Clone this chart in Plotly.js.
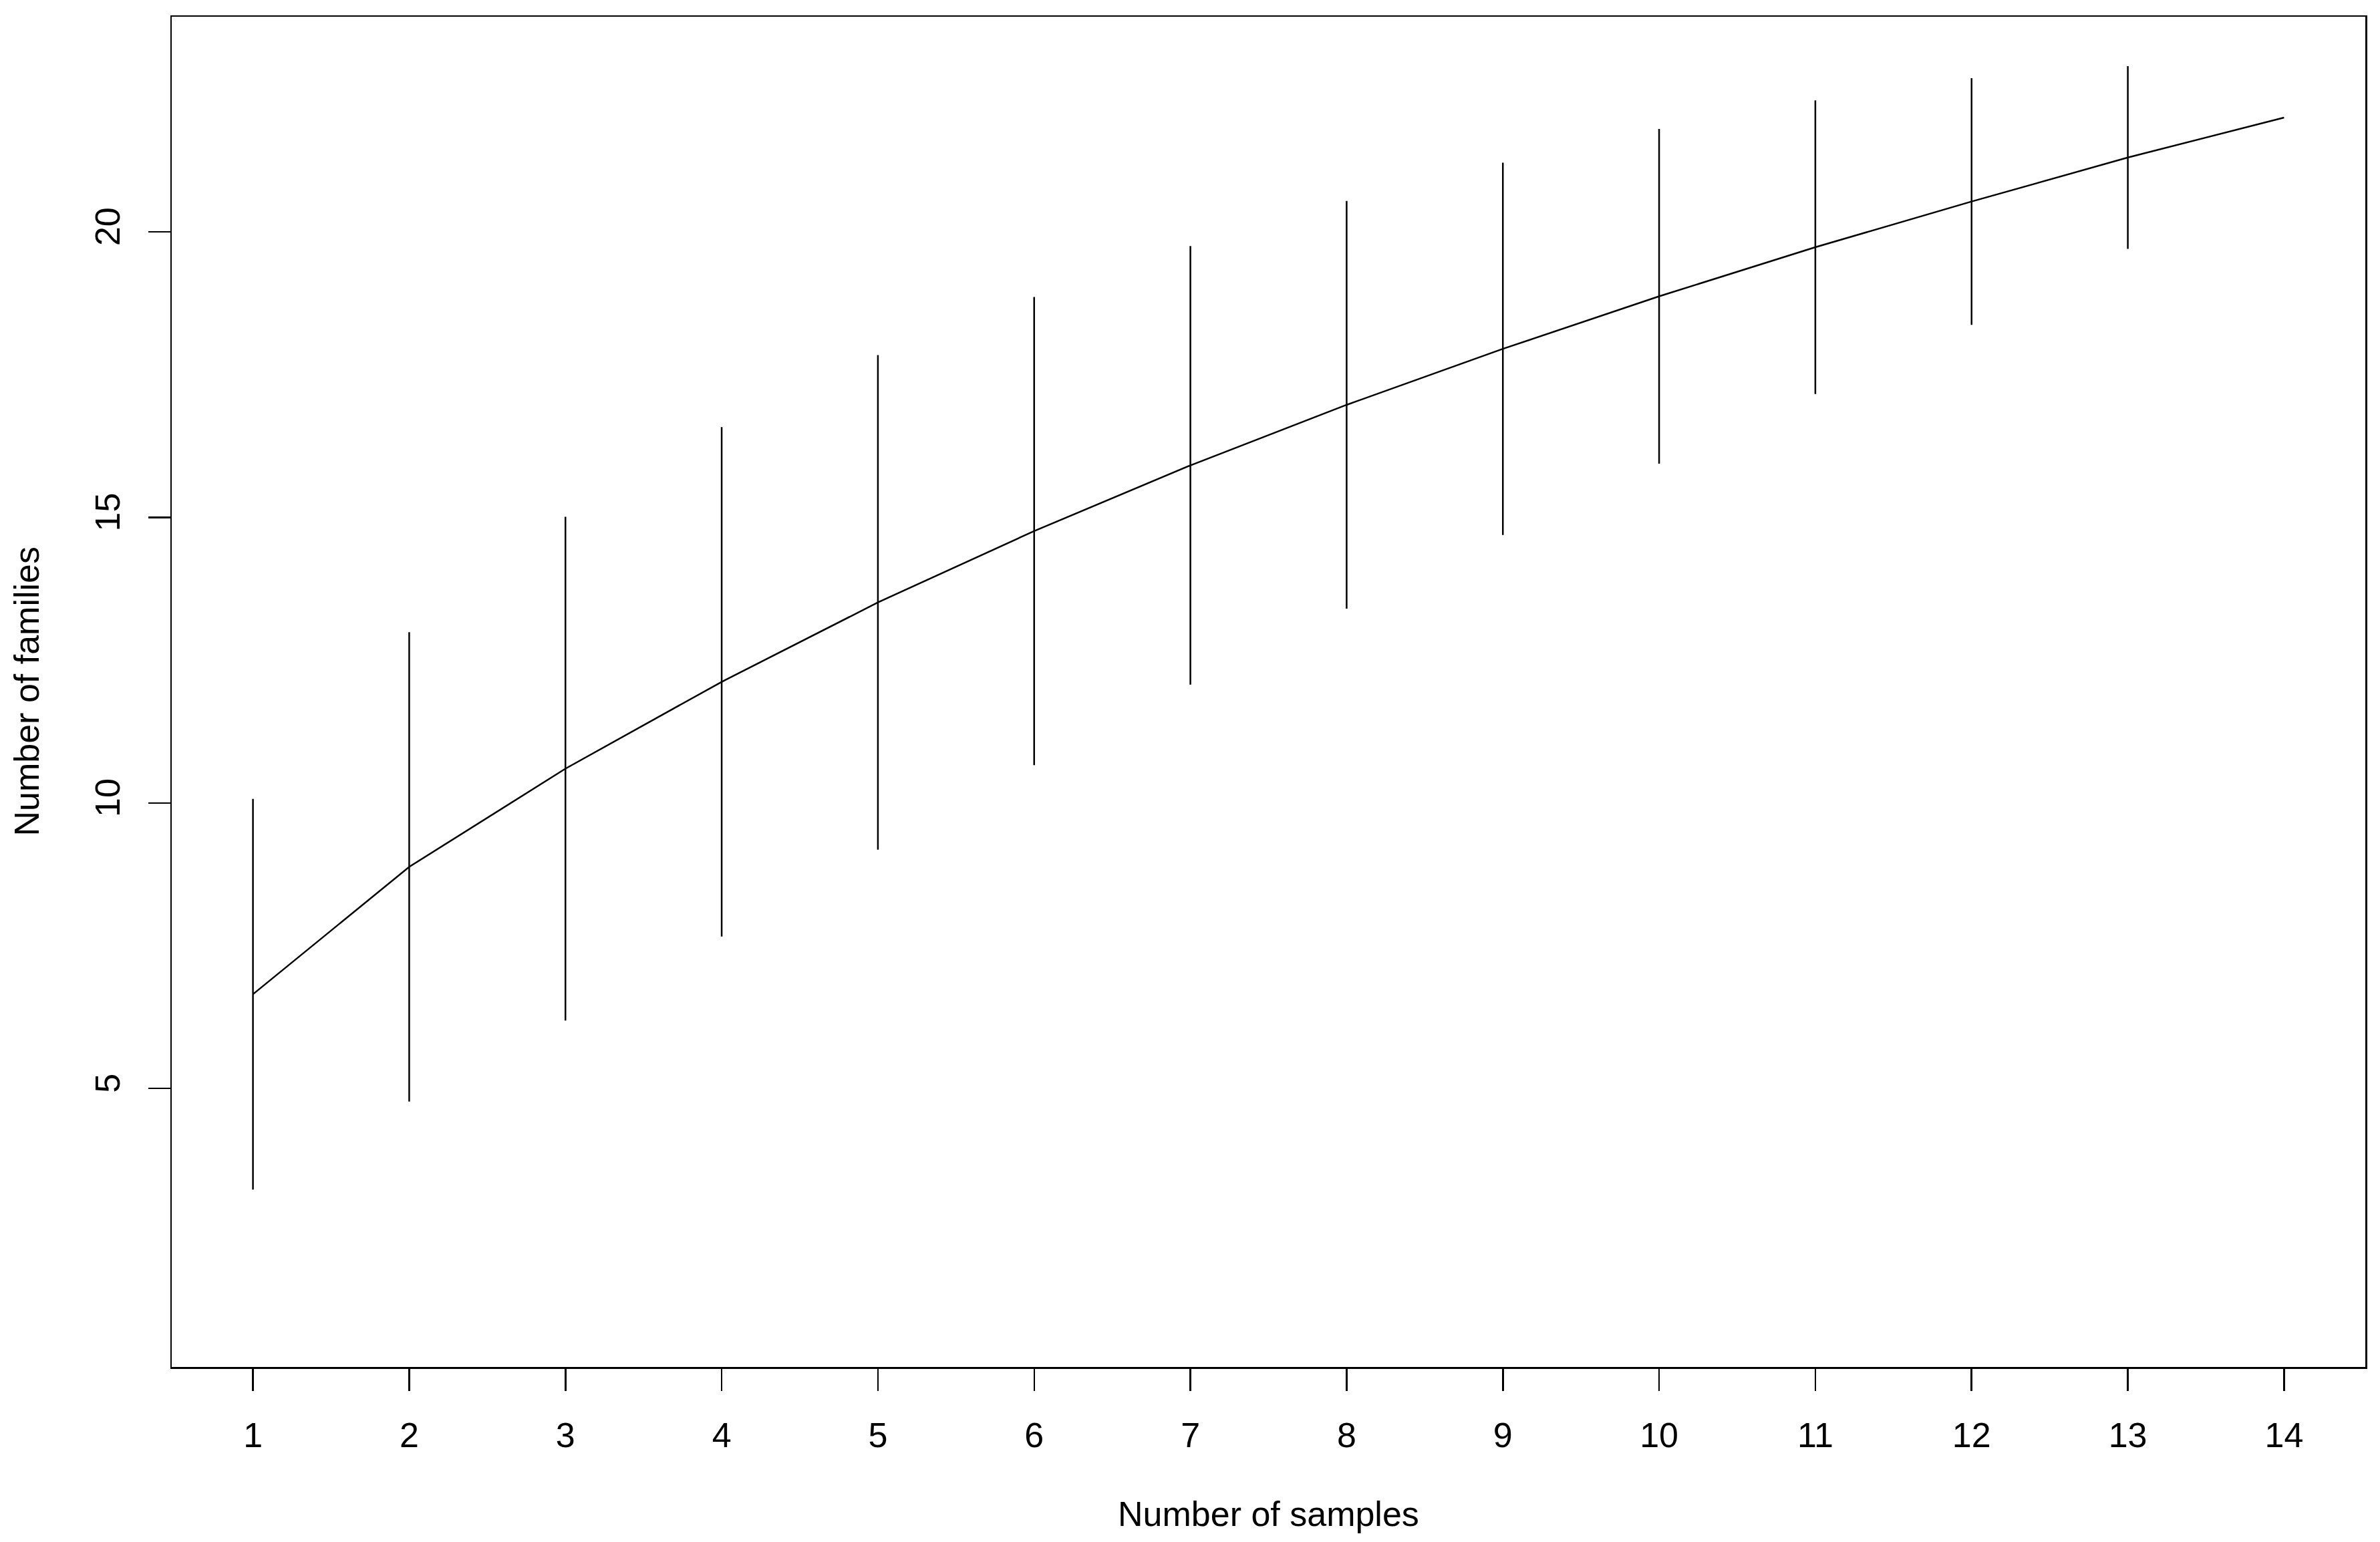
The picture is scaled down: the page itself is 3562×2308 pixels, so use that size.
<!DOCTYPE html>
<html>
<head>
<meta charset="utf-8">
<script src="https://cdn.plot.ly/plotly-3.0.1.min.js"></script>
<style>
  html, body { margin: 0; padding: 0; background: #ffffff; }
  #chart { width: 3562px; height: 2308px; }
</style>
</head>
<body>
<div id="chart"></div>
<script>
// Number of samples
const samples = [1, 2, 3, 4, 5, 6, 7, 8, 9, 10, 11, 12, 13, 14];
// Mean number of families (accumulation curve)
const families = [6.65, 8.88, 10.60, 12.12, 13.51, 14.76, 15.91, 16.97, 17.95, 18.87, 19.73, 20.53, 21.30, 22.00];
// Standard deviation (half-length of each vertical bar)
const familiesSD = [3.42, 4.11, 4.41, 4.46, 4.33, 4.10, 3.84, 3.57, 3.26, 2.93, 2.57, 2.16, 1.60, 0];
// Tick labels
const xTicks = [1, 2, 3, 4, 5, 6, 7, 8, 9, 10, 11, 12, 13, 14];
const yTicks = [5, 10, 15, 20];

const FONT = "Liberation Sans, Arial, Helvetica, sans-serif";

const trace = {
  x: samples,
  y: families,
  type: "scatter",
  mode: "lines",
  line: { color: "#000000", width: 2.5 },
  error_y: {
    type: "data",
    array: familiesSD,
    symmetric: true,
    visible: true,
    color: "#000000",
    thickness: 2.5,
    width: 0
  },
  hoverinfo: "x+y",
  showlegend: false
};

const layout = {
  width: 3562,
  height: 2308,
  paper_bgcolor: "#ffffff",
  plot_bgcolor: "#ffffff",
  margin: { l: 257, r: 22, t: 25, b: 262, pad: 0 },
  font: { family: FONT, size: 52, color: "#000000" },
  showlegend: false,
  xaxis: {
    range: [0.48, 14.52],
    tickmode: "array",
    tickvals: xTicks,
    ticktext: xTicks.map(String),
    ticks: "outside",
    ticklen: 33,
    tickwidth: 2.5,
    tickcolor: "#000000",
    showline: true,
    linecolor: "#000000",
    linewidth: 2.5,
    mirror: true,
    showgrid: false,
    zeroline: false,
    tickfont: { family: FONT, size: 52, color: "#000000" },
    ticklabelstandoff: 22
  },
  yaxis: {
    range: [0.124, 23.766],
    tickmode: "array",
    tickvals: yTicks,
    ticktext: yTicks.map(String),
    ticks: "outside",
    ticklen: 33,
    tickwidth: 2.5,
    tickcolor: "#000000",
    tickangle: -90,
    showline: true,
    linecolor: "#000000",
    linewidth: 2.5,
    mirror: true,
    showgrid: false,
    zeroline: false,
    tickfont: { family: FONT, size: 52, color: "#000000" },
    ticklabelstandoff: 22
  },
  annotations: [
    {
      text: "Number of samples",
      xref: "paper", yref: "paper",
      x: 0.5, y: -0.1089,
      xanchor: "center", yanchor: "middle",
      showarrow: false,
      font: { family: FONT, size: 52, color: "#000000" }
    },
    {
      text: "Number of families",
      xref: "paper", yref: "paper",
      x: -0.0664, y: 0.5,
      xanchor: "center", yanchor: "middle",
      textangle: -90,
      showarrow: false,
      font: { family: FONT, size: 52, color: "#000000" }
    }
  ]
};

Plotly.newPlot("chart", [trace], layout, { displayModeBar: false, staticPlot: true });
</script>
</body>
</html>
